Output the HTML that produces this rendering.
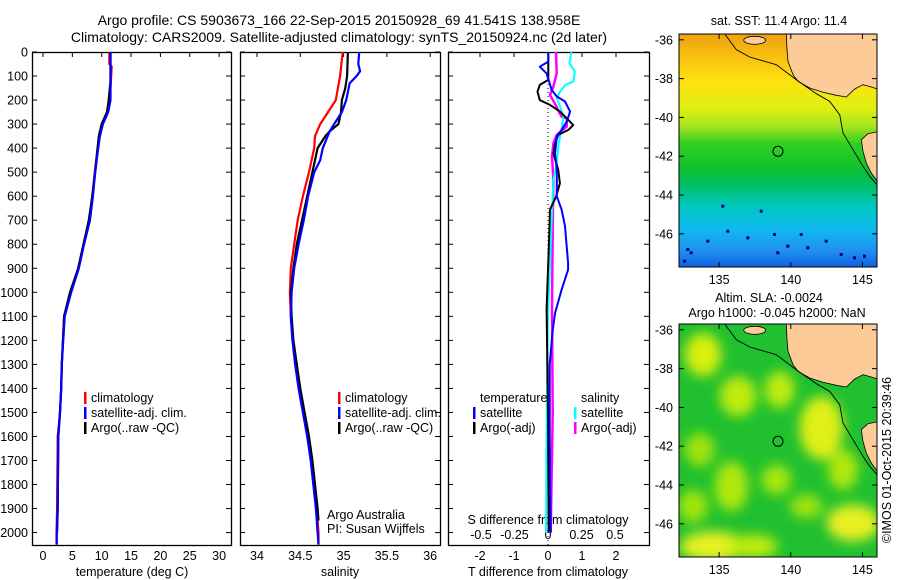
<!DOCTYPE html>
<html><head><meta charset="utf-8"><style>
html,body{margin:0;padding:0;background:#fff;}
svg{display:block;font-family:"Liberation Sans",sans-serif;}
text{fill:#000;}
</style></head><body>
<svg id="c" width="900" height="580" viewBox="0 0 900 580" xmlns="http://www.w3.org/2000/svg">
<defs>
<linearGradient id="sstg" x1="0" y1="0" x2="0" y2="1">
<stop offset="0" stop-color="#f0a010"/><stop offset="0.1" stop-color="#f8c010"/><stop offset="0.2" stop-color="#ffe010"/>
<stop offset="0.32" stop-color="#e0f010"/><stop offset="0.4" stop-color="#a0e420"/><stop offset="0.47" stop-color="#30d020"/>
<stop offset="0.58" stop-color="#10c030"/><stop offset="0.66" stop-color="#00c070"/><stop offset="0.74" stop-color="#00c8c0"/>
<stop offset="0.84" stop-color="#10b8f0"/><stop offset="0.93" stop-color="#2090f0"/><stop offset="1" stop-color="#1060e0"/>
</linearGradient>
<filter id="blur"><feGaussianBlur stdDeviation="6"/></filter>
<clipPath id="m1clip"><rect x="0" y="0" width="198" height="233"/></clipPath>
</defs>
<g id="root"></g>
</svg>
<script>
// ---- data ----
const depthTicks=[0,100,200,300,400,500,600,700,800,900,1000,1100,1200,1300,1400,1500,1600,1700,1800,1900,2000];
const tempTicks=[0,5,10,15,20,25,30];
const salTicks=[34,34.5,35,35.5,36];
const tdTicks=[-2,-1,0,1,2];
const sdTicks=[-0.5,-0.25,0,0.25,0.5];
// temperature profiles
const tClimD=[0,50,60,200,250,300,350,400,500,600,700,800,900,1000,1100,1300,1400,1500,1600,1900,2000,2050];
const tClimV=[11.3,11.3,11.7,11.4,10.9,10.0,9.6,9.3,8.8,8.4,7.9,6.9,6.0,4.7,3.6,3.2,3.1,2.9,2.5,2.4,2.3,2.3];
const tSatD=[0,200,250,300,350,400,500,600,700,800,900,1000,1100,1300,1400,1500,1600,1900,2000,2050];
const tSatV=[11.5,11.5,11.1,10.2,9.7,9.4,8.9,8.5,8.0,7.0,6.1,4.8,3.7,3.2,3.1,2.9,2.6,2.5,2.35,2.35];
const tArgD=[0,120,200,250,300,350,400,500,600,700,800,900,1000,1100,1300,1400,1500,1600,1900,2000];
const tArgV=[11.5,11.5,11.2,10.9,10.0,9.5,9.3,8.9,8.4,7.8,6.9,6.0,4.6,3.6,3.2,3.1,2.9,2.6,2.5,2.4];
// salinity profiles
const sClimD=[0,100,200,250,300,350,400,500,600,700,800,900,1000,1100,1200,1300,1400,1500,1600,1700,1800,1900,2000,2050];
const sClimV=[34.99,34.96,34.91,34.82,34.73,34.67,34.66,34.60,34.53,34.47,34.43,34.39,34.38,34.39,34.41,34.45,34.49,34.54,34.59,34.63,34.66,34.69,34.71,34.71];
const sSatD=[0,50,80,100,130,200,250,300,330,400,450,500,600,700,800,900,1000,1100,1200,1300,1400,1500,1600,1700,1800,1900,2000,2050];
const sSatV=[35.18,35.17,35.19,35.15,35.07,35.03,34.98,34.89,34.84,34.76,34.73,34.66,34.59,34.54,34.48,34.43,34.40,34.39,34.41,34.44,34.48,34.53,34.58,34.62,34.65,34.68,34.70,34.71];
const sArgD=[0,100,150,200,250,300,330,350,400,500,600,700,800,900,1000,1100,1200,1300,1400,1500,1600,1700,1800,1900,1950];
const sArgV=[35.05,35.04,35.02,34.98,34.97,34.94,34.84,34.79,34.70,34.64,34.58,34.52,34.46,34.42,34.39,34.40,34.42,34.46,34.50,34.55,34.60,34.64,34.67,34.70,34.71];
// difference profiles
const dTsatD=[0,40,61,89,158,185,206,248,290,324,352,421,490,601,656,725,878,906,989,1086,1155,1300,1600,2000];
const dTsatV=[0.01,0.01,-0.24,-0.04,0.11,0.26,0.5,0.65,0.55,0.4,0.26,0.21,0.26,0.26,0.4,0.5,0.59,0.59,0.4,0.21,0.14,0.05,0.05,0.08];
const dTargD=[0,116,137,165,200,220,248,283,304,324,345,380,421,490,546,601,656,740,1072,1500,2000];
const dTargV=[0.01,0.01,-0.24,-0.31,-0.24,0.06,0.35,0.6,0.74,0.6,0.3,0.21,0.16,0.3,0.35,0.24,0.06,0.04,-0.04,0.0,0.02];
const dSargD=[0,89,144,179,213,269,276,310,345,380,435,532,740,1072,1500,2000];
const dSargV=[0.06,0.065,0.04,0.015,0.05,0.1,0.14,0.14,0.065,0.04,0.03,0.04,0.035,0.03,0.035,0.02];
const dSsatD=[0,46,81,122,137,165,192,227,269,324,380,463,532,671,878,1100,1500,2000];
const dSsatV=[0.175,0.16,0.2,0.19,0.13,0.09,0.065,0.09,0.115,0.1,0.08,0.065,0.04,0.03,0.015,0.0,-0.01,-0.015];

// ---- axes ----
const yD=d=>52+d*0.2403;
const xT=t=>43+t*5.87;
const xS=s=>257+(s-34)*86.6;
const xDT=v=>548+v*34;
const xDS=v=>548+v*134;
const NS="http://www.w3.org/2000/svg";
const root=document.getElementById('root');
function mk(tag,attrs,parent){const e=document.createElementNS(NS,tag);for(const k in attrs)e.setAttribute(k,attrs[k]);(parent||root).appendChild(e);return e;}
function txt(x,y,s,size,anchor,parent){const t=mk('text',{x:x,y:y,'font-size':size,'text-anchor':anchor||'middle'},parent);t.textContent=s;return t;}

let t1=txt(339,25,'Argo profile: CS 5903673_166 22-Sep-2015 20150928_69 41.541S 138.958E',14);


let t2=txt(339,42,'Climatology: CARS2009. Satellite-adjusted climatology: synTS_20150924.nc (2d later)',14);



const panels=[[32,231,'temperature-panel'],[240,440,'salinity-panel'],[448,649,'difference-panel']];
panels.forEach(p=>{
  const r=mk('rect',{x:p[0]+0.5,y:52.5,width:p[1]-p[0],height:493,fill:'none',stroke:'#000','stroke-width':1.3});
  
  
  depthTicks.forEach(d=>{
    mk('line',{x1:p[0],x2:p[0]+5,y1:yD(d),y2:yD(d),stroke:'#000'});
    mk('line',{x1:p[1]-5,x2:p[1],y1:yD(d),y2:yD(d),stroke:'#000'});
  });
});
depthTicks.forEach(d=>{
  const l=txt(28,yD(d)+4.5,String(d),12.5,'end');
  
  
});
tempTicks.forEach(v=>{
  mk('line',{x1:xT(v),x2:xT(v),y1:52,y2:57,stroke:'#000'});
  const l=txt(xT(v),560,String(v),12.5);
  
  
});
salTicks.forEach(v=>{
  mk('line',{x1:xS(v),x2:xS(v),y1:52,y2:57,stroke:'#000'});
  const l=txt(xS(v),560,String(v),12.5);
  
  
});
tdTicks.forEach(v=>{
  mk('line',{x1:xDT(v),x2:xDT(v),y1:52,y2:57,stroke:'#000'});
  const l=txt(xDT(v),560,String(v),12.5);
  
  
});
sdTicks.forEach(v=>{
  const l=txt(xDS(v),539,String(v),12.5);
  
  
});
let a1=txt(132,576,'temperature (deg C)',12.5);


let a2=txt(340,576,'salinity',12.5);


let a3=txt(548,576,'T difference from climatology',12.5);


let a4=txt(548,524,'S difference from climatology',12.5);



const zl=mk('line',{x1:548,x2:548,y1:yD(0),y2:545,stroke:'#000','stroke-dasharray':'1 3'});



function series(D,V,fx,color,name,w){
  const pts=D.map((d,i)=>fx(V[i]).toFixed(1)+','+yD(d).toFixed(1)).join(' ');
  const pl=mk('polyline',{points:pts,fill:'none',stroke:color,'stroke-width':w||2.2,'stroke-linejoin':'round'});
  
  
}
series(tClimD,tClimV,xT,'#f00','temperature-climatology-line');
series(tArgD,tArgV,xT,'#000','temperature-argo-line');
series(tSatD,tSatV,xT,'#00f','temperature-satellite-line');
series(sClimD,sClimV,xS,'#f00','salinity-climatology-line');
series(sArgD,sArgV,xS,'#000','salinity-argo-line');
series(sSatD,sSatV,xS,'#00f','salinity-satellite-line');
series(dSargD,dSargV,xDS,'#f0f','s-diff-argo-line',2.5);
series(dSsatD,dSsatV,xDS,'#0ff','s-diff-satellite-line',2);
series(dTargD,dTargV,xDT,'#000','t-diff-argo-line',2);
series(dTsatD,dTsatV,xDT,'#00f','t-diff-satellite-line',2);

function legend(x,y,items,name){
  const g=mk('g',{});
  
  
  items.forEach((it,i)=>{
    if(it[0])mk('rect',{x:x,y:y+i*15-10,width:2.5,height:12,fill:it[0]},g);
    txt(x+7,y+i*15,it[1],12.5,'start',g);
  });
}
legend(84,402,[['#f00','climatology'],['#00f','satellite-adj. clim.'],['#000','Argo(..raw -QC)']],'temperature-legend');
legend(338,402,[['#f00','climatology'],['#00f','satellite-adj. clim.'],['#000','Argo(..raw -QC)']],'salinity-legend');
legend(473,402,[[null,'temperature'],['#00f','satellite'],['#000','Argo(-adj)']],'temperature-diff-legend');
legend(574,402,[[null,'salinity'],['#0ff','satellite'],['#f0f','Argo(-adj)']],'salinity-diff-legend');
const c1=txt(327,519,'Argo Australia',12.5,'start');


const c2=txt(327,533,'PI: Susan Wijffels',12.5,'start');



// ---- maps ----
const lonTicks=[135,140,145];
const latTicks=[-36,-38,-40,-42,-44,-46];
const mx=lon=>(lon-132.2)*14.33;
const my=lat=>(-35.7-lat)*19.4;
const L=(zx,zy)=>((zx-88)/3).toFixed(1)+','+((zy-103)/3).toFixed(1);
const landMain=[[410,103],[412,150],[415,185],[430,225],[445,245],[480,265],[520,278],[560,287],[590,292],[615,268],[640,255],[665,262],[690,270],[690,103]];
const landTas=[[690,395],[655,402],[635,420],[640,455],[650,490],[665,520],[690,555]];
const shelf=[[225,103],[260,150],[300,172],[380,195],[440,240],[500,282],[540,305],[570,345],[580,400],[610,450],[640,500],[660,530],[682,555]];
const sstBlue=[[110,745],[120,755],[170,720],[230,690],[290,710],[370,700],[410,735],[470,740],[525,720],[570,760],[610,770],[640,765],[100,780],[215,615],[330,630],[380,755],[450,700]];
const slaBlobs=[[160,195,22,26,'#d8f010'],[265,320,22,24,'#c0ec10'],[390,300,18,22,'#c0ec10'],[515,415,26,38,'#e0f018'],[245,590,20,30,'#b0e810'],[580,540,18,24,'#b0e810'],[610,700,32,22,'#e8f020'],[190,770,40,18,'#e8f020'],[310,770,30,14,'#c0ec10'],[150,480,18,20,'#a0e410'],[380,570,18,18,'#a8e810'],[130,650,18,20,'#a0e410'],[470,650,20,14,'#a0e410']];

function map(ox,oy,kind,name){
  const g=mk('g',{transform:`translate(${ox},${oy})`});
  
  
  const inner=mk('g',{'clip-path':'url(#m1clip)'},g);
  if(kind==='sst'){
    mk('rect',{x:0,y:0,width:198,height:233,fill:'url(#sstg)'},inner);
    sstBlue.forEach(p=>{const q=L(p[0],p[1]).split(',');mk('rect',{x:q[0],y:q[1],width:3,height:3,fill:'#000090'},inner);});
  }else{
    mk('rect',{x:0,y:0,width:198,height:233,fill:'#20c030'},inner);
    const bg=mk('g',{filter:'url(#blur)'},inner);
    slaBlobs.forEach(b=>{const q=L(b[0],b[1]).split(',');mk('ellipse',{cx:q[0],cy:q[1],rx:b[2]/1.2,ry:b[3]/1.2,fill:b[4]},bg);});
  }
  mk('polygon',{points:landMain.map(p=>L(p[0],p[1])).join(' '),fill:'#fccb98',stroke:'#000','stroke-width':0.8},inner);
  mk('polygon',{points:landTas.map(p=>L(p[0],p[1])).join(' '),fill:'#fccb98',stroke:'#000','stroke-width':0.8},inner);
  const ki=L(315,122).split(',');
  mk('ellipse',{cx:ki[0],cy:ki[1],rx:11,ry:4,fill:'#fccb98',stroke:'#000','stroke-width':0.8},inner);
  mk('polyline',{points:shelf.map(p=>L(p[0],p[1])).join(' '),fill:'none',stroke:'#000','stroke-width':0.9},inner);
  const cp=L(385,455).split(',');
  const mk1=mk('circle',{cx:cp[0],cy:cp[1],r:5,fill:'none',stroke:'#000','stroke-width':1},g);
  
  
  mk('rect',{x:0,y:0,width:198,height:233,fill:'none',stroke:'#000','stroke-width':1},g);
  lonTicks.forEach(v=>{
    mk('line',{x1:mx(v),x2:mx(v),y1:233,y2:228,stroke:'#000'},g);
    mk('line',{x1:mx(v),x2:mx(v),y1:0,y2:5,stroke:'#000'},g);
    const l=txt(mx(v),250,String(v),12.5,'middle',g);
    
    
  });
  latTicks.forEach(v=>{
    mk('line',{x1:0,x2:5,y1:my(v),y2:my(v),stroke:'#000'},g);
    mk('line',{x1:198,x2:193,y1:my(v),y2:my(v),stroke:'#000'},g);
    const l=txt(-6,my(v)+4.5,String(v),12.5,'end',g);
    
    
  });
}
map(679,34,'sst','sst-map');
map(679,324,'sla','sla-map');
let m1=txt(779,25,'sat. SST: 11.4 Argo: 11.4',12.5);


let m2=txt(769,302,'Altim. SLA: -0.0024',12.5);


let m3=txt(777,317,'Argo h1000: -0.045 h2000: NaN',12.5);


let ts=mk('text',{x:0,y:0,'font-size':12.5,'text-anchor':'middle',transform:'translate(891,460) rotate(-90)'});
ts.textContent='©IMOS 01-Oct-2015 20:39:46';


</script>
</body></html>
